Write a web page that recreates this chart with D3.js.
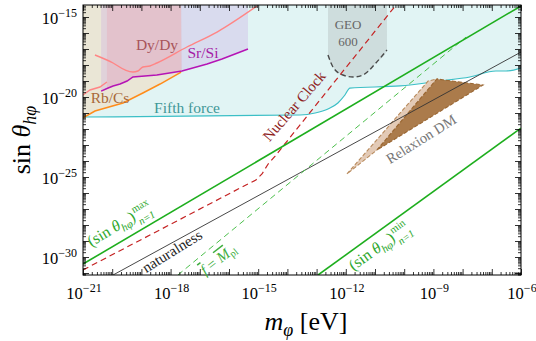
<!DOCTYPE html>
<html>
<head>
<meta charset="utf-8">
<script src="https://cdn.jsdelivr.net/npm/d3@7"></script>
<style>
  body { margin: 0; background: #fff; }
  text { font-family: "Liberation Serif", "DejaVu Serif", serif; }
</style>
</head>
<body>
<div id="chart"></div>
<script>
(function(){

    /* all values are log10 exponents */
    var massTicks = [-21, -18, -15, -12, -9, -6];
    var sinTicks  = [-30, -25, -20, -15];

    var fifthForceM = [-21, -13.57, -13.05, -12.61, -12.27, -12.03, -11.86, -10.14, -8.77, -7.75, -6.86, -6.51, -6];
    var fifthForceS = [-21.25, -21.125, -21.0, -20.75, -20.375, -19.875, -19.44, -19.31, -19.0, -18.75, -18.375, -18.375, -18.19];

    var rbCsM = [-21, -20.59, -19.63, -18.95, -18.36, -17.64];
    var rbCsS = [-21.31, -20.875, -20.375, -19.75, -19.19, -18.44];

    var srSiM = [-20.38, -20.14, -19.97, -19.73, -19.49, -19.29, -18.47, -17.61, -16.75, -16.24, -15.35];
    var srSiS = [-19.63, -19.44, -19.31, -19.19, -19.0, -18.75, -18.63, -18.375, -17.94, -17.625, -17.0];

    var dyDyM = [-20.59, -19.97, -19.56, -19.29, -19.12, -18.95, -18.71, -18.47, -17.44, -16.41, -15.04];
    var dyDyS = [-17.375, -17.875, -18.31, -18.44, -18.375, -18.125, -18.06, -17.875, -16.875, -15.94, -14.31];
    var dyDyLowM = [-21, -20.76, -20.42, -20.18];
    var dyDyLowS = [-19.875, -19.56, -19.375, -19.06];
    var dyDyBand = [-20.18, -17.64];

    var geoM = [-12.61, -12.61, -12.44, -12.10, -11.75, -11.41, -10.97, -10.59, -10.59];
    var geoS = [-14.25, -17.375, -18.125, -18.625, -18.75, -18.625, -17.875, -17.06, -14.25];

    var nuclearM = [-21, -15.42, -15.08, -14.87, -14.66, -14.42, -10.28];
    var nuclearS = [-30.81, -25.5, -25.19, -24.81, -24.19, -23.69, -14.25];

    var maxLineM = [-21, -6];
    var maxLineS = [-30.44, -14.31];
    var minLineM = [-12.95, -6];
    var minLineS = [-31.125, -21.94];
    var naturalM = [-19.97, -6];
    var naturalS = [-31.125, -17.19];
    var planckM  = [-17.75, -7.88];
    var planckS  = [-31.125, -16.25];

    var relaxLightM = [-11.96, -9.18, -8.88, -10.93];
    var relaxLightS = [-24.81, -19.0, -18.875, -23.31];
    var relaxDarkM  = [-10.93, -8.88, -7.30];
    var relaxDarkS  = [-23.31, -18.875, -19.25];

    var W = 536, H = 341;
    var margin = {top: 5, right: 15, bottom: 66, left: 83};

    var x = d3.scaleLog()
        .domain([1e-21, 1e-6])
        .range([margin.left, W - margin.right]);
    var y = d3.scaleLog()
        .domain([Math.pow(10, -31.125), Math.pow(10, -14.25)])
        .range([H - margin.bottom, margin.top]);

    function pts(ms, ss){
        return ms.map(function(m, i){ return [m, ss[i]]; });
    }
    function px(d){ return x(Math.pow(10, d[0])); }
    function py(d){ return y(Math.pow(10, d[1])); }

    var line = d3.line().x(px).y(py);
    var smooth = d3.line().x(px).y(py).curve(d3.curveMonotoneX);

    var svg = d3.select("#chart")
        .append("svg")
        .attr("width", W)
        .attr("height", H);

    svg.append("clipPath")
        .attr("id", "plotClip")
        .append("rect")
        .attr("x", margin.left)
        .attr("y", margin.top)
        .attr("width", W - margin.left - margin.right)
        .attr("height", H - margin.top - margin.bottom);

    var plot = svg.append("g").attr("clip-path", "url(#plotClip)");
    var top = -14.25;

    /* fifth force: everything above the turquoise curve */
    var ff = pts(fifthForceM, fifthForceS);
    plot.append("path")
        .attr("d", smooth(ff.concat([[-6, top], [-21, top]])))
        .style("fill", "#e1f4f4");

    /* Rb/Cs band */
    var rb = pts(rbCsM, rbCsS);
    plot.append("path")
        .attr("d", line(rb.concat([[-17.64, top], [-21, top]])))
        .style("fill", "#f3d7b8")
        .style("fill-opacity", 0.5);

    /* Sr/Si band */
    var sr = pts(srSiM, srSiS);
    plot.append("path")
        .attr("d", line(sr.concat([[-15.35, top], [-20.38, top]])))
        .style("fill", "#cba9e2")
        .style("fill-opacity", 0.32);

    /* Dy/Dy band, bounded below by the Sr/Si curve */
    var dyBand = sr.filter(function(d){ return d[0] >= dyDyBand[0] && d[0] <= dyDyBand[1] + 0.05; });
    dyBand = [[dyDyBand[0], -19.34]].concat(dyBand);
    plot.append("path")
        .attr("d", line(dyBand.concat([[dyDyBand[1], top], [dyDyBand[0], top]])))
        .style("fill", "#ee8a9a")
        .style("fill-opacity", 0.22);

    /* GEO600 */
    var geo = pts(geoM, geoS);
    plot.append("path")
        .attr("d", smooth(geo) + "Z")
        .style("fill", "#c7d5d6")
        .style("fill-opacity", 0.75);
    plot.append("path")
        .attr("d", smooth(geo.slice(1, 8)))
        .style("fill", "none")
        .style("stroke", "#4a4a4a")
        .style("stroke-width", 1.4)
        .style("stroke-dasharray", "5,3");

    /* curves of the exclusion regions */
    plot.append("path").attr("d", smooth(ff))
        .style("fill", "none").style("stroke", "#3cbfc6").style("stroke-width", 1.2);
    plot.append("path").attr("d", line(rb))
        .style("fill", "none").style("stroke", "#ff8c1a").style("stroke-width", 1.5);
    plot.append("path").attr("d", line(sr))
        .style("fill", "none").style("stroke", "#b514b5").style("stroke-width", 1.5);
    plot.append("path").attr("d", smooth(pts(dyDyM, dyDyS)))
        .style("fill", "none").style("stroke", "#ff8585").style("stroke-width", 1.4);
    plot.append("path").attr("d", line(pts(dyDyLowM, dyDyLowS)))
        .style("fill", "none").style("stroke", "#ff8585").style("stroke-width", 1.4);

    /* relaxion DM */
    plot.append("path")
        .attr("d", line(pts(relaxLightM, relaxLightS)) + "Z")
        .style("fill", "#e3cab6")
        .style("stroke", "#b88a5c")
        .style("stroke-width", 1.1)
        .style("stroke-dasharray", "4,2");
    plot.append("path")
        .attr("d", line(pts(relaxDarkM, relaxDarkS)) + "Z")
        .style("fill", "#ab7b4b")
        .style("stroke", "#9a6632")
        .style("stroke-width", 1.1)
        .style("stroke-dasharray", "4,2");

    /* theory lines */
    plot.append("path").attr("d", line(pts(naturalM, naturalS)))
        .style("fill", "none").style("stroke", "#333").style("stroke-width", 0.9);
    plot.append("path").attr("d", line(pts(planckM, planckS)))
        .style("fill", "none").style("stroke", "#4cbf4c").style("stroke-width", 1)
        .style("stroke-dasharray", "6,4");
    plot.append("path").attr("d", line(pts(nuclearM, nuclearS)))
        .style("fill", "none").style("stroke", "#c42222").style("stroke-width", 1.2)
        .style("stroke-dasharray", "6,4");
    plot.append("path").attr("d", line(pts(maxLineM, maxLineS)))
        .style("fill", "none").style("stroke", "#1eae1e").style("stroke-width", 1.6);
    plot.append("path").attr("d", line(pts(minLineM, minLineS)))
        .style("fill", "none").style("stroke", "#1eae1e").style("stroke-width", 1.6);

    /* ---------- axes ---------- */
    function decades(a, b){ var r = []; for (var n = a; n <= b; n++) r.push(n); return r; }
    function minors(a, b){
        var r = [];
        for (var n = a; n < b; n++) for (var k = 2; k <= 9; k++) r.push(k * Math.pow(10, n));
        return r;
    }
    var xMajor = decades(-21, -6).map(function(n){ return Math.pow(10, n); });
    var yMajor = decades(-31, -15).map(function(n){ return Math.pow(10, n); });
    var xMinor = minors(-21, -6);
    var yMinor = minors(-32, -14).filter(function(v){ return v >= y.domain()[0] && v <= y.domain()[1]; });

    function addAxis(gen, vals, size, tr){
        var g = svg.append("g")
            .attr("transform", tr)
            .call(gen.tickValues(vals).tickSize(size).tickFormat(""));
        g.select(".domain").remove();
        g.selectAll("line").style("stroke", "#000").style("stroke-width", 0.8);
    }
    var b = H - margin.bottom, r = W - margin.right;
    addAxis(d3.axisBottom(x), xMajor, -6, "translate(0," + b + ")");
    addAxis(d3.axisBottom(x), xMinor, -3, "translate(0," + b + ")");
    addAxis(d3.axisTop(x), xMajor, -6, "translate(0," + margin.top + ")");
    addAxis(d3.axisTop(x), xMinor, -3, "translate(0," + margin.top + ")");
    addAxis(d3.axisLeft(y), yMajor, -6, "translate(" + margin.left + ",0)");
    addAxis(d3.axisLeft(y), yMinor, -3, "translate(" + margin.left + ",0)");
    addAxis(d3.axisRight(y), yMajor, -6, "translate(" + r + ",0)");
    addAxis(d3.axisRight(y), yMinor, -3, "translate(" + r + ",0)");

    svg.append("rect")
        .attr("x", margin.left).attr("y", margin.top)
        .attr("width", r - margin.left).attr("height", b - margin.top)
        .style("fill", "none").style("stroke", "#000").style("stroke-width", 1);

    function powText(t, n){
        t.append("tspan").text("10");
        t.append("tspan").attr("dy", -7).style("font-size", "12px").text("\u2212" + Math.abs(n));
    }
    massTicks.forEach(function(n){
        var t = svg.append("text")
            .attr("x", x(Math.pow(10, n)) + 1)
            .attr("y", b + 24)
            .attr("text-anchor", "middle")
            .style("font-size", "16.5px");
        powText(t, n);
    });
    sinTicks.forEach(function(n){
        var t = svg.append("text")
            .attr("x", margin.left - 6)
            .attr("y", y(Math.pow(10, n)) + 7)
            .attr("text-anchor", "end")
            .style("font-size", "16.5px");
        powText(t, n);
    });

    /* axis titles */
    var yl = svg.append("text")
        .attr("transform", "translate(30," + ((margin.top + b) / 2) + ") rotate(-90)")
        .attr("text-anchor", "middle")
        .style("font-size", "26px");
    yl.append("tspan").text("sin ");
    yl.append("tspan").style("font-style", "italic").text("\u03b8");
    yl.append("tspan").attr("dy", 6).style("font-size", "18px").style("font-style", "italic").text("h\u03c6");

    var xl = svg.append("text")
        .attr("x", 306).attr("y", 330)
        .attr("text-anchor", "middle")
        .style("font-size", "26px");
    xl.append("tspan").style("font-style", "italic").text("m");
    xl.append("tspan").attr("dy", 6).style("font-size", "18px").style("font-style", "italic").text("\u03c6");
    xl.append("tspan").attr("dy", -6).text(" [eV]");

    /* ---------- annotations ---------- */
    function label(txt, cx, cy, color, size, angle){
        svg.append("text")
            .attr("transform", "translate(" + cx + "," + cy + ") rotate(" + (angle || 0) + ")")
            .attr("text-anchor", "middle")
            .attr("dy", "0.35em")
            .style("font-size", size + "px")
            .style("fill", color)
            .text(txt);
    }
    label("Dy/Dy", 157, 45, "#a8545a", 15.5);
    label("Sr/Si", 203, 53, "#a51ba5", 15.5);
    label("Rb/Cs", 110, 98, "#a8683a", 15.5);
    label("Fifth force", 187, 108, "#3f9797", 15.5);
    label("GEO", 348, 24, "#666", 13);
    label("600", 348, 41, "#666", 13);
    label("Nuclear Clock", 294, 106, "#8e1d1d", 15, -49);
    label("Relaxion DM", 421, 139, "#777", 14.5, -32);
    label("naturalness", 172, 251, "#222", 15, -32);

    /* f = M_pl */
    var fp = svg.append("text")
        .attr("transform", "translate(218,259) rotate(-38)")
        .attr("text-anchor", "middle")
        .attr("dy", "0.35em")
        .style("font-size", "15px")
        .style("fill", "#3fae3f");
    fp.append("tspan").style("font-style", "italic").style("text-decoration", "overline").text("f");
    fp.append("tspan").text(" = ");
    fp.append("tspan").style("font-style", "italic").style("text-decoration", "overline").text("M");
    fp.append("tspan").attr("dy", 3).style("font-size", "10px").text("pl");

    /* (sin theta)^max / ^min labels */
    function sinLabel(cx, cy, angle, which){
        var g = svg.append("g")
            .attr("transform", "translate(" + cx + "," + cy + ") rotate(" + angle + ")")
            .style("fill", "#2ea82e");
        var inner = g.append("g");
        var t = inner.append("text").style("font-size", "16px");
        t.append("tspan").text("(sin ");
        t.append("tspan").style("font-style", "italic").text("\u03b8");
        t.append("tspan").attr("dy", 4).style("font-size", "11px").style("font-style", "italic").text("h\u03c6");
        t.append("tspan").attr("dy", -4).text(")");
        var w = t.node().getComputedTextLength();
        var sup = inner.append("text").attr("x", w + 1).attr("y", -7)
            .style("font-size", "10.5px").text(which);
        var sub = inner.append("text").attr("x", w + 1).attr("y", 7)
            .style("font-size", "10.5px").style("font-style", "italic").text("n=1");
        var tw = w + 1 + Math.max(sup.node().getComputedTextLength(), sub.node().getComputedTextLength());
        inner.attr("transform", "translate(" + (-tw / 2) + ",4)");
    }
    sinLabel(120, 225, -31, "max");
    sinLabel(380, 247, -36, "min");

})();
</script>
</body>
</html>
